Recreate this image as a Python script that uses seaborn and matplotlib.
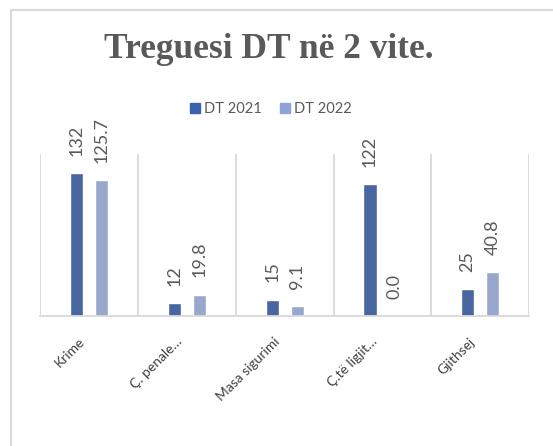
import numpy as np
import pandas as pd
import matplotlib.pyplot as plt
import matplotlib.transforms as mtransforms
from matplotlib.lines import Line2D
import seaborn as sns

sns.set_style('white')
plt.rcParams['font.family'] = ['Lato', 'DejaVu Sans']

categories = ['Krime', 'Ç. penale…', 'Masa sigurimi', 'Ç.të ligjit…', 'Gjithsej']
dt_2021 = [132, 12, 15, 122, 25]
dt_2022 = [125.7, 19.8, 9.1, 0.0, 40.8]
series = ['DT 2021', 'DT 2022']

df = pd.DataFrame({
    'kategoria': categories * 2,
    'vlera': dt_2021 + dt_2022,
    'seria': [series[0]] * len(categories) + [series[1]] * len(categories),
})

DARK = '#3A62AD'
LIGHT = '#8FA4D6'
GRID = '#D9D9D9'
TXT = '#595959'

fig = plt.figure(figsize=(5.53, 4.46), dpi=100)
ax = fig.add_axes([0.0732, 0.2915, 0.8834, 0.3632])

sns.barplot(data=df, x='kategoria', y='vlera', hue='seria', order=categories,
            palette=[DARK, LIGHT], width=0.51, gap=0.47, ax=ax, legend=False)

ax.set_ylim(0, 150)
ax.set_xlim(-0.5, len(categories) - 0.5)
ax.set_xlabel('')
ax.set_ylabel('')
ax.set_yticks([])

# vertical separators between categories
ax.set_xticks(np.arange(-0.5, len(categories), 1.0), minor=True)
ax.grid(True, which='minor', axis='x', color=GRID, linewidth=1.3)
ax.tick_params(axis='x', which='both', length=0)
for s in ['top', 'left', 'right']:
    ax.spines[s].set_visible(False)
ax.spines['bottom'].set_color(GRID)
ax.spines['bottom'].set_linewidth(1.3)

# data labels
fmts = ['{:.0f}', '{:.1f}']
for cont, f in zip(ax.containers, fmts):
    ax.bar_label(cont, labels=[f.format(v) for v in cont.datavalues],
                 rotation=90, padding=12.5, fontsize=13, color=TXT)

ax.tick_params(axis='x', which='major', pad=17)
offset = mtransforms.ScaledTranslation(-5 / 72, 0, fig.dpi_scale_trans)
for lbl in ax.get_xticklabels():
    lbl.set_rotation(45)
    lbl.set_ha('right')
    lbl.set_va('center')
    lbl.set_rotation_mode('anchor')
    lbl.set_fontsize(10)
    lbl.set_color('#404040')
    lbl.set_transform(lbl.get_transform() + offset)

fig.text(0.486, 0.888, 'Treguesi DT në 2 vite.', ha='center', va='center',
         fontsize=25.5, fontweight='bold', color=TXT, family='Liberation Serif')

handles = [plt.Rectangle((0, 0), 1, 1, color=c) for c in [DARK, LIGHT]]
fig.legend(handles, series, loc='center', bbox_to_anchor=(0.49, 0.755), ncol=2,
           frameon=False, fontsize=10.5, labelcolor=TXT, handlelength=0.7,
           handleheight=0.7, handletextpad=0.3, columnspacing=1.2)

# outer chart border (cropped on right and bottom)
fig.add_artist(Line2D([11 / 553, 11 / 553], [0, 1 - 10 / 446], color=GRID, linewidth=1.5))
fig.add_artist(Line2D([11 / 553, 1], [1 - 10 / 446, 1 - 10 / 446], color=GRID, linewidth=1.5))

fig.savefig('out.png', dpi=100)
